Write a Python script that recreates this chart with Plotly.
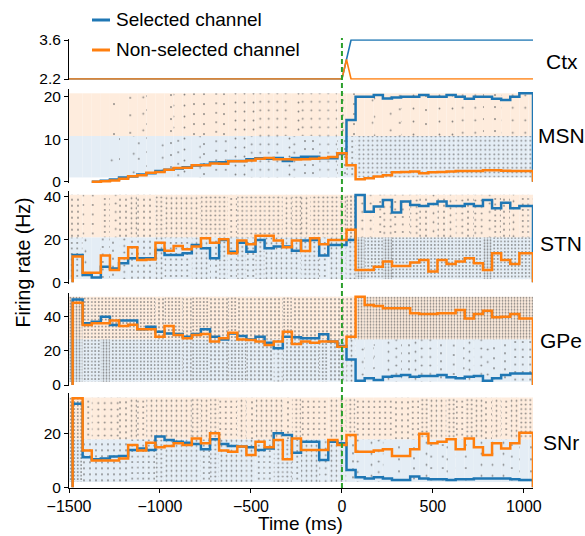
import numpy as np
import plotly.graph_objects as go

# ---------------- data ----------------
# bin edges of the firing-rate histograms (ms)
edges = np.r_[-1480.0, np.arange(-1425, 1026, 50), 1050.0]   # 52 edges -> 51 bins

ctx_t_sel = [-1500, 0, 50, 1050]
ctx_sel = [2.2, 2.2, 3.6, 3.6]
ctx_t_non = [-1500, 0, 25, 50, 1050]
ctx_non = [2.2, 2.2, 2.9, 2.2, 2.2]

msn_sel = [None, None, 0, 0.2, 0.5, 1.0, 1.2, 1.7, 2.0, 2.5, 2.8, 3.1, 3.4, 3.8, 4.0, 4.5, 4.6,
           4.9, 4.9, 5.3, 5.5, 5.4, 5.6, 4.9, 5.6, 5.9, 5.9, 5.5, 5.5, 6.5,
           14.5, 20.0, 20.0, 20.4, 19.6, 19.8, 20.0, 20.0, 20.4, 20.0, 20.0, 20.4, 20.0, 19.5,
           20.0, 20.0, 19.5, 19.2, 20.0, 20.8, 20.8]
msn_non = [None, None, 0, 0.1, 0.3, 0.7, 1.3, 1.5, 2.1, 2.3, 2.8, 3.2, 3.3, 3.9, 3.9, 4.3, 4.2,
           4.8, 4.8, 5.0, 5.4, 5.6, 5.3, 5.3, 5.2, 5.3, 5.4, 5.6, 5.8, 6.7,
           3.9, 0.6, 0.8, 1.2, 1.5, 2.2, 2.3, 2.4, 2.0, 2.2, 2.3, 2.4, 2.5, 2.5, 2.5, 2.7, 2.7,
           2.6, 2.5, 2.5, 2.5]

stn_sel = [12.8, 3.4, 2.3, 7.3, 6.5, 8.9, 11.2, 11.2, 11.2, 15.1, 12.8, 12.8, 13.6, 17.4, 15.9,
           11.2, 19.8, 14.3, 18.5, 14.3, 19.8, 15.9, 16.7, 16.7, 14.8,
           19.5, 19.8, 12.5, 17.4, 17.4, 19.8,
           40.8, 33.0, 35.4, 38.5, 32.6, 37.7, 36.1, 35.7, 36.6, 37.7, 35.7, 35.7, 36.6, 35.7,
           38.5, 34.6, 37.2, 34.6, 35.7, 35.7]
stn_non = [12.0, 4.5, 4.5, 12.5, 5.8, 11.2, 16.4, 10.4, 10.7, 18.5, 14.8, 17.0, 15.4, 16.7, 20.6,
           18.5, 20.1, 13.6, 19.5, 17.8, 21.7, 21.7, 19.5, 16.4, 19.5,
           14.6, 20.6, 17.8, 19.8, 19.8, 24.5,
           5.8, 5.8, 7.3, 9.7, 7.6, 7.6, 9.2, 10.4, 5.0, 10.4, 8.6, 9.7, 11.2, 8.9, 5.8, 13.6,
           10.4, 8.6, 13.6, 13.6]

gpe_sel = [50.1, 36.1, 37.1, 40.0, 35.1, 37.7, 37.7, 32.6, 34.1, 31.2, 30.2, 29.9, 28.3, 29.9,
           32.6, 28.3, 26.7, 30.2, 28.7, 26.7, 28.3, 24.8, 21.5, 28.3, 27.9,
           27.3, 27.3, 29.7, 25.4, 22.8, 15.0,
           2.5, 3.9, 2.9, 4.9, 5.3, 5.9, 4.9, 5.3, 5.3, 5.9, 4.5, 3.9, 4.9, 5.3, 2.5, 3.9, 5.9,
           6.8, 6.8, 6.8]
gpe_non = [48.2, 35.1, 36.1, 36.1, 37.7, 34.5, 35.3, 32.6, 32.6, 28.3, 34.5, 29.3, 27.3, 29.3,
           29.9, 25.4, 27.3, 30.6, 26.7, 26.3, 25.4, 23.4, 25.4, 31.2, 24.0,
           25.4, 24.8, 25.4, 25.4, 22.4, 28.3,
           51.7, 46.8, 46.2, 44.9, 44.9, 44.9, 42.0, 41.6, 41.6, 42.0, 42.0, 43.9, 39.0, 41.6,
           43.5, 39.6, 40.0, 41.6, 39.0, 39.0]

snr_sel = [30.9, 11.1, 10.4, 10.7, 11.4, 11.6, 13.8, 14.4, 13.8, 18.8, 17.5, 16.9, 16.5, 16.0,
           14.1, 17.8, 16.0, 15.3, 15.1, 14.8, 13.8, 14.4, 20.0, 19.4, 12.8,
           16.9, 16.9, 10.1, 16.9, 16.3, 6.4,
           3.7, 3.3, 3.7, 3.3, 2.7, 2.7, 4.0, 3.3, 3.0, 3.0, 2.7, 3.0, 3.0, 3.3, 3.3, 3.3, 3.3,
           3.0, 2.7, 2.7]
snr_non = [33.0, 13.6, 9.9, 9.9, 9.9, 10.7, 15.7, 13.6, 16.5, 14.8, 15.3, 16.3, 15.7, 18.1, 16.3,
           20.0, 13.6, 13.2, 15.1, 12.0, 16.9, 14.8, 17.5, 10.4, 18.1,
           13.8, 13.8, 13.8, 17.5, 15.7, 19.4,
           13.2, 13.2, 13.6, 14.1, 11.6, 11.6, 14.1, 19.8, 16.3, 16.9, 17.8, 14.1, 18.1, 14.8,
           12.0, 16.3, 14.4, 16.3, 20.2, 20.2]

x_ticks = [-1500, -1000, -500, 0, 500, 1000]
x_ticktext = ['\u22121500', '\u22121000', '\u2212500', '0', '500', '1000']

# ---------------- layout config ----------------
W, H = 585, 536
ML, MR = 69, 52
FONT = 'Liberation Sans, Arial, sans-serif'
BLUE = '#1f77b4'
ORANGE = '#ff7f0e'
BAND_BLUE = '#e4edf5'
BAND_ORANGE = '#feecdd'
TICK_SIZE = 15.5

panels = [
    dict(name='MSN', sel=msn_sel, non=msn_non, ref=(0, 181.7, 4.25), rng=(-0.3, 21.8),
         ticks=[0, 10, 20], bands=(1.0, 10.75, 20.8), lab=135),
    dict(name='STN', sel=stn_sel, non=stn_non, ref=(0, 282.3, 2.14), rng=(-0.8, 42.8),
         ticks=[0, 20, 40], bands=(1.5, 21.0, 40.9), lab=243),
    dict(name='GPe', sel=gpe_sel, non=gpe_non, ref=(0, 385.0, 1.708), rng=(-0.3, 53.7),
         ticks=[0, 20, 40], bands=(1.9, 26.8, 51.7), lab=340),
    dict(name='SNr', sel=snr_sel, non=snr_non, ref=(0, 487.3, 2.7), rng=(-0.3, 34.8),
         ticks=[0, 20], bands=(2.0, 17.8, 33.3), lab=442),
]
ctx_cfg = dict(ref=(2.2, 79.0, 27.86), rng=(2.17, 3.63), lab=61)


def yfrac(px):
    return 1 - px / H


def xfrac(px):
    return (px - ML) / (W - ML - MR)


def domain(ref, rng):
    v0, p0, ppu = ref
    top = p0 - (rng[1] - v0) * ppu
    bot = p0 - (rng[0] - v0) * ppu
    return [yfrac(bot), yfrac(top)]


fig = go.Figure()

bar_edges = edges.copy()
bar_edges[0] = -1500.0
centers = (bar_edges[:-1] + bar_edges[1:]) / 2
widths = np.diff(bar_edges)


def pattern_for(rates):
    shapes, sizes, sols = [], [], []
    for r in rates:
        r = 0 if r is None else r
        if r < 0.3:
            shapes.append('')
            sizes.append(8)
            sols.append(0.1)
        else:
            s = float(np.clip(20.0 / np.sqrt(r), 3.0, 30.0))
            s = round(s * 2) / 2
            shapes.append('.')
            sizes.append(s)
            sols.append(min(0.5, 2.6 / (s * s)))
    return shapes, sizes, sols


def step_xy(vals):
    x = np.r_[edges[0], edges]
    y0 = 0 if vals[0] is not None else None
    y = [y0] + list(vals) + [0]
    return x, y


# Ctx panel (axis 1)
fig.add_trace(go.Scatter(x=ctx_t_sel, y=ctx_sel, mode='lines', line=dict(color=BLUE, width=1.6),
                         xaxis='x', yaxis='y', showlegend=False, hoverinfo='skip'))
fig.add_trace(go.Scatter(x=ctx_t_non, y=ctx_non, mode='lines', line=dict(color=ORANGE, width=1.6),
                         xaxis='x', yaxis='y', showlegend=False, hoverinfo='skip'))

layout = dict(
    width=W, height=H,
    margin=dict(l=ML, r=MR, t=0, b=0, pad=0),
    paper_bgcolor='white', plot_bgcolor='white',
    barmode='overlay', showlegend=False,
    font=dict(family=FONT, size=16, color='black'),
)

axis_common = dict(showgrid=False, zeroline=False, automargin=False)
layout['xaxis'] = dict(axis_common, domain=[0, 1], range=[-1500, 1050], anchor='y',
                       showline=False, showticklabels=False, ticks='', matches='x5')
layout['yaxis'] = dict(axis_common, domain=domain(ctx_cfg['ref'], ctx_cfg['rng']),
                       range=list(ctx_cfg['rng']), anchor='x', showline=True, linecolor='black',
                       linewidth=1, ticks='outside', ticklen=4, tickwidth=1, tickcolor='black',
                       tickvals=[2.2, 3.6], ticktext=['2.2', '3.6'], tickfont=dict(size=TICK_SIZE))

for i, p in enumerate(panels, start=2):
    xa, ya = f'x{i}', f'y{i}'
    lo, mid, hi = p['bands']
    for rates, b0, b1, col in ((p['sel'], lo, mid, BAND_BLUE), (p['non'], mid, hi, BAND_ORANGE)):
        shp, siz, sol = pattern_for(rates)
        fig.add_trace(go.Bar(
            x=centers, y=[b1 - b0] * len(centers), base=[b0] * len(centers), width=widths,
            xaxis=xa, yaxis=ya, showlegend=False, hoverinfo='skip',
            marker=dict(color=col, line=dict(width=0),
                        pattern=dict(shape=shp, size=siz, solidity=sol, fgcolor='#6a6a6a',
                                     fgopacity=0.8, bgcolor=col, fillmode='replace'))))
    for vals, col in ((p['sel'], BLUE), (p['non'], ORANGE)):
        sx, sy = step_xy(vals)
        fig.add_trace(go.Scatter(x=sx, y=sy, mode='lines', line_shape='hv',
                                 line=dict(color=col, width=2.5), xaxis=xa, yaxis=ya,
                                 showlegend=False, hoverinfo='skip', connectgaps=False))
    last = (i == 5)
    xkw = dict(axis_common, domain=[0, 1], range=[-1500, 1050], anchor=ya)
    if last:
        xkw.update(showline=True, linecolor='black', linewidth=1, ticks='outside', ticklen=4,
                   tickwidth=1, tickcolor='black', tickvals=x_ticks, ticktext=x_ticktext,
                   tickfont=dict(size=16))
    else:
        xkw.update(showline=False, showticklabels=False, ticks='', matches='x5')
    layout[f'xaxis{i}'] = xkw
    layout[f'yaxis{i}'] = dict(axis_common, domain=domain(p['ref'], p['rng']), range=list(p['rng']),
                               anchor=xa, showline=True, linecolor='black', linewidth=1,
                               ticks='outside', ticklen=4, tickwidth=1, tickcolor='black',
                               tickvals=p['ticks'], tickfont=dict(size=TICK_SIZE))

fig.update_layout(**layout)

# annotations
ann = []
ann.append(dict(text='Firing rate (Hz)', x=xfrac(22), y=yfrac(262.5), xref='paper', yref='paper',
                textangle=-90, showarrow=False, font=dict(size=19.5), xanchor='center', yanchor='middle'))
ann.append(dict(text='Time (ms)', x=xfrac(300), y=yfrac(523), xref='paper', yref='paper',
                showarrow=False, font=dict(size=19), xanchor='center', yanchor='middle'))
ann.append(dict(text='Ctx', x=xfrac(562), y=yfrac(ctx_cfg['lab']), xref='paper', yref='paper',
                showarrow=False, font=dict(size=21), xanchor='center', yanchor='middle'))
for p in panels:
    ann.append(dict(text=p['name'], x=xfrac(561), y=yfrac(p['lab']), xref='paper', yref='paper',
                    showarrow=False, font=dict(size=21), xanchor='center', yanchor='middle'))
for txt, ypx in (('Selected channel', 19.5), ('Non-selected channel', 49.5)):
    ann.append(dict(text=txt, x=xfrac(114), y=yfrac(ypx), xref='paper', yref='paper',
                    showarrow=False, font=dict(size=19), xanchor='left', yanchor='middle'))
fig.update_layout(annotations=ann)

shapes = []
for col, ypx in ((BLUE, 20), (ORANGE, 50)):
    shapes.append(dict(type='line', xref='paper', yref='paper', x0=xfrac(92), x1=xfrac(110),
                       y0=yfrac(ypx), y1=yfrac(ypx), line=dict(color=col, width=3)))
shapes.append(dict(type='line', xref='x5', yref='paper', x0=0, x1=0, y0=yfrac(488), y1=yfrac(38),
                   line=dict(color='#2ca02c', width=2, dash='5px,3px'), layer='above'))
fig.update_layout(shapes=shapes)

fig.write_html('out.html')
